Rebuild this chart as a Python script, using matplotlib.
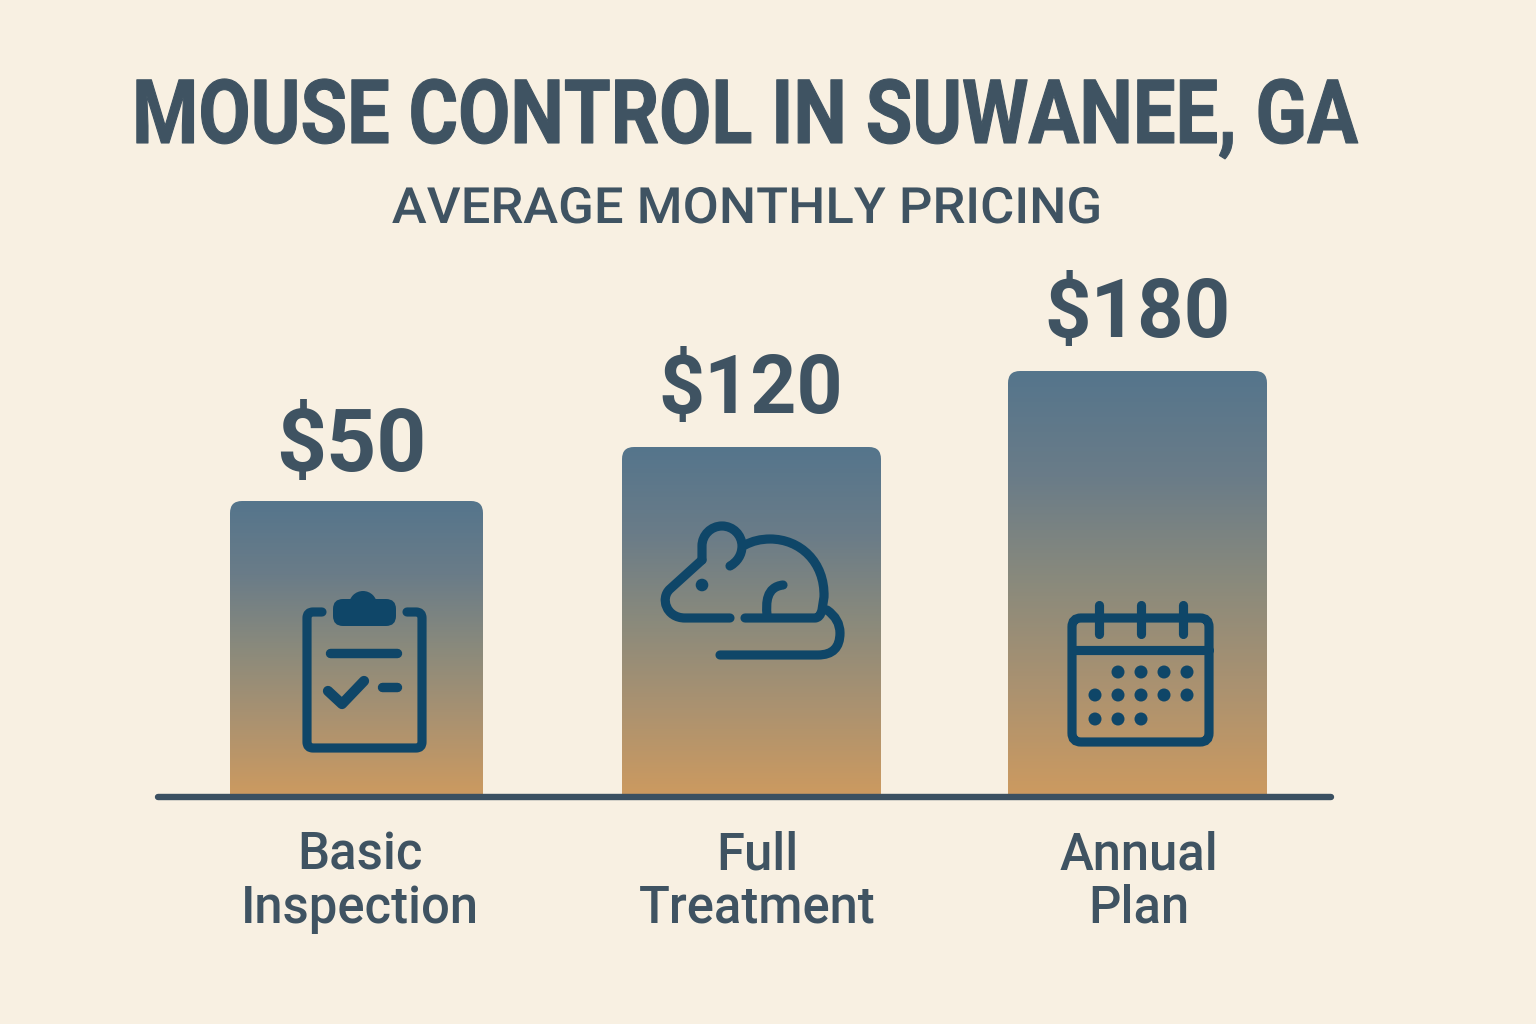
import numpy as np
import matplotlib
matplotlib.use("Agg")
import matplotlib.pyplot as plt
from matplotlib.colors import LinearSegmentedColormap
from matplotlib.patches import Circle, FancyBboxPatch, PathPatch
from matplotlib.path import Path
from matplotlib.patheffects import AbstractPathEffect
from matplotlib.transforms import Affine2D

categories = ["Basic\nInspection", "Full\nTreatment", "Annual\nPlan"]
prices = ["$50", "$120", "$180"]
# heights as drawn in the picture, the bars are not to scale with the price
bar_heights = [294, 348, 424]

BASE = 795  # pixel row of the baseline
BG = "#F8F0E2"
TEXT = "#3F5362"
ICON = "#0F4668"
LW = 6.6

grad = LinearSegmentedColormap.from_list(
    "bar", ["#55758C", "#6A7C88", "#8A8A7C", "#AB9270", "#CC9A60"])


class Stretch(AbstractPathEffect):
    # text keeps its font, only the drawn outline gets narrower or wider around x0
    def __init__(self, sx, x0, bold=0):
        super().__init__()
        self.sx, self.x0, self.bold = sx, x0, bold

    def draw_path(self, renderer, gc, tpath, affine, rgbFace=None):
        tr = affine + Affine2D().translate(-self.x0, 0).scale(self.sx, 1).translate(self.x0, 0)
        gc0 = renderer.new_gc()
        gc0.copy_properties(gc)
        if self.bold:
            gc0.set_linewidth(self.bold)
            gc0.set_foreground(rgbFace)
        renderer.draw_path(gc0, tpath, tr, rgbFace)
        gc0.restore()


def up(py):
    # picture row -> height above the baseline
    return BASE - np.asarray(py, dtype=float)


def stroke(ax, pts, codes=None, lw=LW):
    pts = np.array(pts, dtype=float)
    pts[:, 1] = up(pts[:, 1])
    ax.add_patch(PathPatch(Path(pts, codes), fill=False, ec=ICON, lw=lw,
                           capstyle="round", joinstyle="round", zorder=4))


def dot(ax, x, y, r):
    ax.add_patch(Circle((x, up(y)), r, fc=ICON, ec="none", zorder=4))


def clipboard(ax):
    M, L, C = Path.MOVETO, Path.LINETO, Path.CURVE3
    stroke(ax, [(322, 612), (313, 612), (307, 612), (307, 618), (307, 742), (307, 748), (313, 748),
                (416, 748), (422, 748), (422, 742), (422, 618), (422, 612), (416, 612), (407, 612)],
           [M, L, C, C, L, C, C, L, C, C, L, C, C, L])
    ax.add_patch(FancyBboxPatch((333 + 10, up(626) + 10), 63 - 20, 27 - 20,
                                boxstyle="round,pad=10,rounding_size=10", fc=ICON, ec="none", zorder=4))
    dot(ax, 363, 605, 14)
    stroke(ax, [(330, 653), (397, 653)], lw=6.8)
    stroke(ax, [(328, 691), (342, 704), (364, 681)], lw=7.4)
    stroke(ax, [(382, 687), (397, 687)], lw=6.8)


def mouse(ax):
    M, L, C = Path.MOVETO, Path.LINETO, Path.CURVE3
    C4 = Path.CURVE4
    # head and chin
    stroke(ax, [(702, 560), (670, 589), (660, 598), (666, 618), (685, 618), (730, 618)],
           [M, L, C4, C4, C4, L])
    # back
    stroke(ax, [(745, 618), (815, 618), (820, 618), (822, 610), (824, 597),
                (825, 562), (800, 539), (770, 539), (756, 539), (745, 545)],
           [M, L, C, C, L, C4, C4, C4, C, C])
    # ear
    stroke(ax, [(702, 560), (702, 546), (702, 535), (711, 526), (722, 526),
                (733, 526), (742, 535), (742, 546), (742, 555), (737, 562), (730, 566)],
           [M, L, C4, C4, C4, C4, C4, C4, C4, C4, C4])
    dot(ax, 702, 585, 6.3)
    # leg
    stroke(ax, [(783, 585), (766, 587), (766, 603), (767, 615)], [M, C4, C4, C4])
    # tail
    stroke(ax, [(827, 610), (840, 619), (840, 633), (840, 655), (818, 655), (720, 655)],
           [M, C, C, C, C, L])


def calendar(ax):
    ax.add_patch(FancyBboxPatch((1072 + 9, up(742) + 9), 137 - 18, 124 - 18,
                                boxstyle="round,pad=9,rounding_size=9", fc="none", ec=ICON,
                                lw=LW, zorder=4))
    stroke(ax, [(1072, 650), (1209, 650)])
    for x in [1099, 1141, 1183]:
        stroke(ax, [(x, 605), (x, 634)])
    rows = [(672, [1118, 1141, 1164, 1187]),
            (695, [1095, 1118, 1141, 1164, 1187]),
            (719, [1095, 1118, 1141])]
    for y, xs in rows:
        for x in xs:
            dot(ax, x, y, 6.5)


fig = plt.figure(figsize=(15.36, 10.24), dpi=100, facecolor=BG)
ax = fig.add_axes([0, 0, 1, 1])
ax.set_facecolor(BG)

lefts = [230, 622, 1008]
widths = [253, 259, 259]
label_x = [351, 751, 1138]
label_gap = [30, 34, 34]
label_size = [63, 58, 58.5]
cat_x = [360, 757, 1139]

gradient = np.linspace(0, 1, 256).reshape(-1, 1)
for i, h in enumerate(bar_heights):
    # rounded on top only: the box runs on below the baseline and the image stops there
    box = FancyBboxPatch((lefts[i] + 12, -20), widths[i] - 24, h + 20 - 12,
                         boxstyle="round,pad=12,rounding_size=12", fc="none", ec="none")
    ax.add_patch(box)
    im = ax.imshow(gradient, cmap=grad, aspect="auto", zorder=2,
                   extent=(lefts[i], lefts[i] + widths[i], 0, h))
    im.set_clip_path(box)
    ax.text(label_x[i], h + label_gap[i], prices[i], ha="center", va="baseline", color=TEXT,
            family="Roboto", fontweight="bold", fontsize=label_size[i])
    ax.text(cat_x[i], up(882), categories[i], ha="center", va="center", color=TEXT,
            family="Roboto", fontweight="medium", fontsize=36.5, linespacing=1.1)

ax.plot([158, 1331], [up(797), up(797)], color="#3B5061", lw=4.6, solid_capstyle="round", zorder=3)

clipboard(ax)
mouse(ax)
calendar(ax)

ax.text(745, up(143), "MOUSE CONTROL IN SUWANEE, GA", ha="center", va="baseline", color=TEXT,
        family="Roboto", fontweight="bold", fontsize=64,
        path_effects=[Stretch(0.852, 745, bold=0.8)])
ax.text(747, up(223), "AVERAGE MONTHLY PRICING", ha="center", va="baseline", color=TEXT,
        family="Roboto", fontweight="medium", fontsize=36,
        path_effects=[Stretch(1.05, 747)])

ax.set_xlim(0, 1536)
ax.set_ylim(up(1024), up(0))
ax.axis("off")

fig.savefig("out.png", dpi=100, facecolor=BG)
